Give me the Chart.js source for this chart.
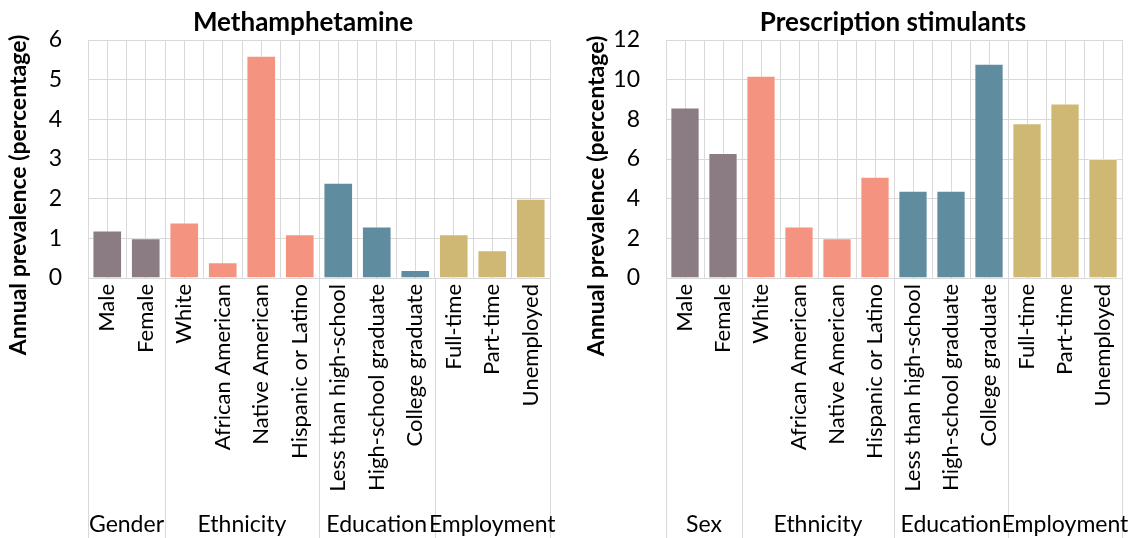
<!DOCTYPE html>
<html>
<head>
<meta charset="utf-8">
<script src="https://cdn.jsdelivr.net/npm/chart.js@4"></script>
<style>
  body { margin: 0; background: #fff; }
  .wrap { position: relative; width: 1136px; height: 538px; }
  canvas { position: absolute; top: 0; }
</style>
</head>
<body>
<div class="wrap">
  <canvas id="methChart" width="568" height="538" style="left:0"></canvas>
  <canvas id="stimChart" width="568" height="538" style="left:568px"></canvas>
</div>
<script>
const categories = ['Male', 'Female', 'White', 'African American', 'Native American', 'Hispanic or Latino',
  'Less than high-school', 'High-school graduate', 'College graduate', 'Full-time', 'Part-time', 'Unemployed'];
const methGroups = ['Gender', 'Ethnicity', 'Education', 'Employment'];
const stimGroups = ['Sex', 'Ethnicity', 'Education', 'Employment'];
const groupSizes = [2, 4, 3, 3];
const groupColors = ['#8b7b82', '#f4937f', '#5f8c9e', '#cfb874'];
const methValues = [1.2, 1.0, 1.4, 0.4, 5.6, 1.1, 2.4, 1.3, 0.2, 1.1, 0.7, 2.0];
const stimValues = [8.6, 6.3, 10.2, 2.6, 2.0, 5.1, 4.4, 4.4, 10.8, 7.8, 8.8, 6.0];
const methTicks = { max: 6, step: 1 };
const stimTicks = { max: 12, step: 2 };
const yTitle = 'Annual prevalence (percentage)';

const FONT = 'Lato, "Open Sans", sans-serif';
const GRID = '#d9d9d9';

// one colour per bar, taken from its group
const barColors = groupSizes.flatMap((n, g) => Array(n).fill(groupColors[g]));

const decor = {
  id: 'decor',
  afterDraw(chart, args, o) {
    const ctx = chart.ctx;
    const x = chart.scales.x;
    const area = chart.chartArea;
    ctx.save();
    // chart title
    ctx.fillStyle = '#000';
    ctx.font = 'bold 26px ' + FONT;
    ctx.textAlign = 'center';
    ctx.textBaseline = 'alphabetic';
    ctx.fillText(o.title, o.titleX, 31);
    // y axis title
    ctx.save();
    ctx.font = 'bold 23px ' + FONT;
    ctx.translate(o.yTitleX, o.yTitleY);
    ctx.rotate(-Math.PI / 2);
    ctx.textBaseline = 'middle';
    ctx.fillText(yTitle, 0, 0);
    ctx.restore();
    // group separators and labels under the axis
    const edge = i => i === 0 ? area.left : i >= categories.length ? area.right
      : (x.getPixelForValue(i - 1) + x.getPixelForValue(i)) / 2;
    ctx.strokeStyle = GRID;
    ctx.lineWidth = 1;
    ctx.font = '23px ' + FONT;
    let start = 0;
    o.groups.forEach((name, g) => {
      const end = start + groupSizes[g];
      const a = edge(start), b = edge(end);
      ctx.beginPath();
      ctx.moveTo(Math.round(a) + 0.5, area.bottom);
      ctx.lineTo(Math.round(a) + 0.5, chart.height);
      ctx.moveTo(Math.round(b) + 0.5, area.bottom);
      ctx.lineTo(Math.round(b) + 0.5, chart.height);
      ctx.stroke();
      ctx.fillText(name, (a + b) / 2, 532);
      start = end;
    });
    ctx.restore();
  }
};

function makeChart(id, values, ticks, groups, pos) {
  return new Chart(document.getElementById(id), {
    type: 'bar',
    data: {
      labels: categories,
      datasets: [{
        data: values,
        backgroundColor: barColors,
        borderColor: 'rgba(255,255,255,0.35)',
        borderWidth: 1,
        categoryPercentage: 1,
        barPercentage: 0.77
      }]
    },
    options: {
      responsive: false,
      animation: false,
      layout: { padding: { top: 40, right: pos.right, bottom: 0, left: 0 } },
      plugins: {
        legend: { display: false },
        tooltip: { enabled: false },
        decor: { title: pos.title, titleX: pos.titleX, yTitleX: pos.yTitleX, yTitleY: pos.yTitleY, groups }
      },
      scales: {
        x: {
          offset: true,
          grid: { color: GRID, offset: true, drawTicks: false },
          border: { display: false },
          ticks: {
            autoSkip: false, minRotation: 90, maxRotation: 90, padding: 6,
            color: '#000', font: { family: FONT, size: 22 }
          },
          afterFit: s => { s.height = 260; }
        },
        x2: {
          type: 'category',
          position: 'top',
          offset: true,
          grid: { color: GRID, offset: false, drawTicks: false },
          border: { display: false },
          ticks: { display: false }
        },
        y: {
          min: 0, max: ticks.max,
          grid: { color: GRID, drawTicks: false },
          border: { display: false },
          ticks: {
            stepSize: ticks.step, padding: 26,
            color: '#000', font: { family: FONT, size: 23 }
          },
          afterFit: s => { s.width = pos.yWidth; }
        }
      }
    },
    plugins: [decor]
  });
}

makeChart('methChart', methValues, methTicks, methGroups,
  { title: 'Methamphetamine', titleX: 303, yTitleX: 19, yTitleY: 195, yWidth: 88, right: 18 });
makeChart('stimChart', stimValues, stimTicks, stimGroups,
  { title: 'Prescription stimulants', titleX: 325, yTitleX: 29, yTitleY: 196, yWidth: 98, right: 11 });
</script>
</body>
</html>
